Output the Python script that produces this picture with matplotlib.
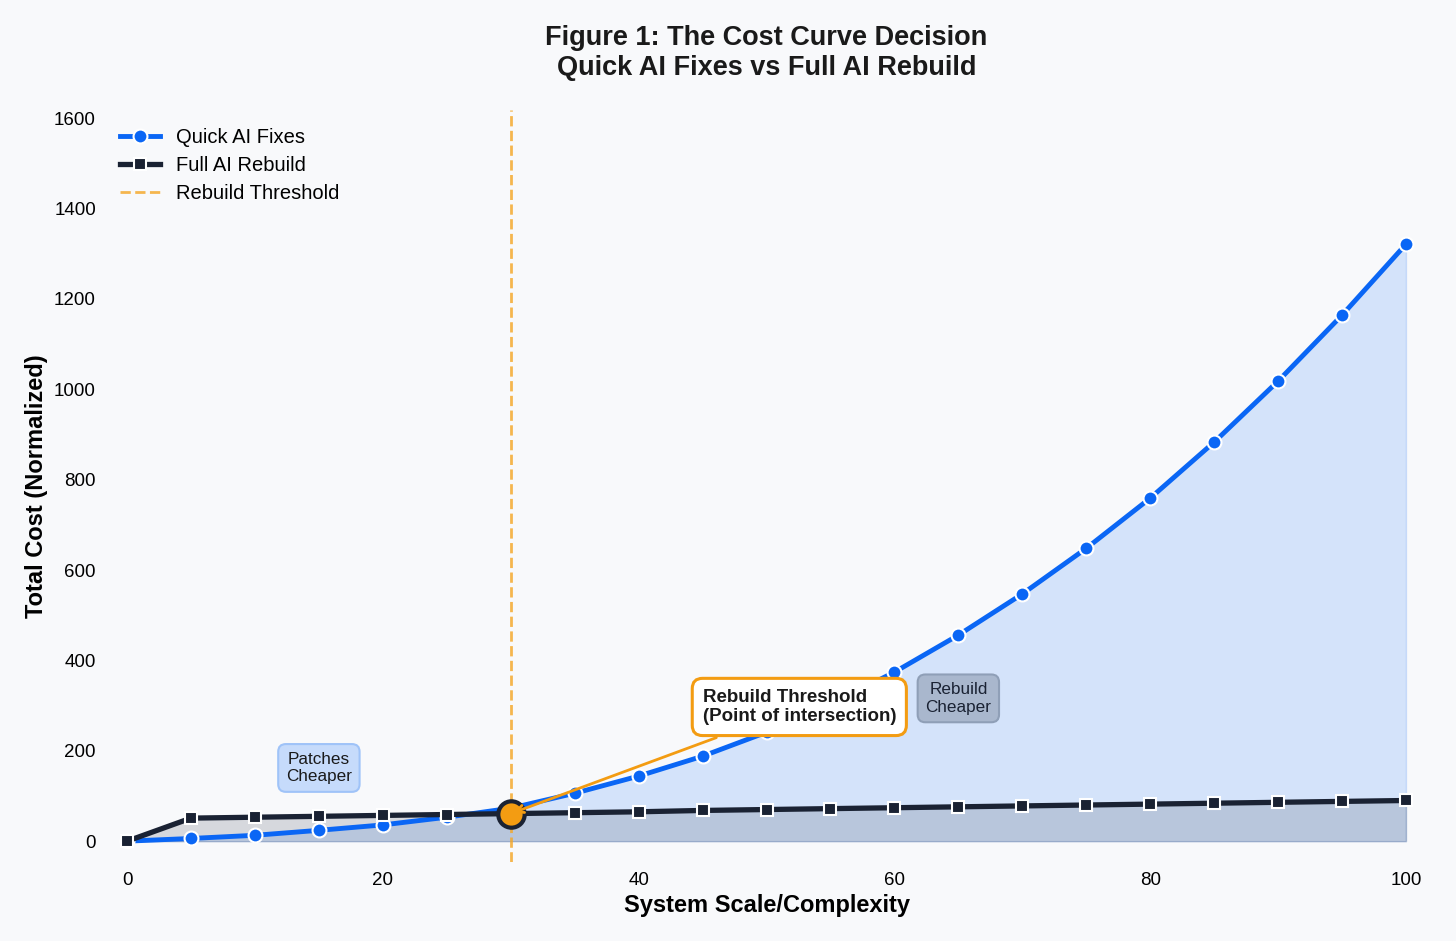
import matplotlib.pyplot as plt
import numpy as np

plt.rcParams['font.family'] = ['Liberation Sans', 'DejaVu Sans']

# data
scale = [0, 5, 10, 15, 20, 25, 30, 35, 40, 45, 50, 55, 60, 65, 70, 75, 80, 85, 90, 95, 100]
quick_fixes = [0, 6, 13, 24, 36, 53, 73, 106, 144, 188, 241, 303, 374, 456, 547, 648, 759, 883, 1018, 1164, 1321]
full_rebuild = [0, 51, 53, 55, 57, 59, 61, 63, 65, 68, 70, 72, 74, 76, 78, 80, 82, 84, 86, 88, 90]
threshold_x = 30
threshold_y = 61

blue = '#0a66f5'
dark = '#1a2233'
orange = '#f39c12'
bg = '#f8f9fb'

fig = plt.figure(figsize=(14.56, 9.41), dpi=100, facecolor=bg)
ax = fig.add_axes([0.0697, 0.084, 0.9135, 0.7991])
ax.set_facecolor(bg)

x = np.array(scale)
q = np.array(quick_fixes)
r = np.array(full_rebuild)

# shaded areas under each curve
ax.fill_between(x, 0, q, color=blue, alpha=0.15, linewidth=1)
ax.fill_between(x, 0, r, color=dark, alpha=0.15, linewidth=1)

ax.plot(x, q, '-o', color=blue, lw=3.5, markersize=10, markeredgecolor='white',
        markeredgewidth=1.5, label='Quick AI Fixes', zorder=4)
ax.plot(x, r, '-s', color=dark, lw=3.8, markersize=9, markeredgecolor='white',
        markeredgewidth=1.5, label='Full AI Rebuild', zorder=4)

ax.axvline(threshold_x, color='#f5a623', ls='--', lw=2, alpha=0.8,
           label='Rebuild Threshold', zorder=3)

# intersection point
ax.plot(threshold_x, threshold_y, 'o', color=orange, markersize=19,
        markeredgecolor=dark, markeredgewidth=3, zorder=6)

ax.annotate('Rebuild Threshold\n(Point of intersection)', xy=(threshold_x, threshold_y),
            xytext=(45, 297), fontsize=13.5, fontweight='bold', color='#1a1a1a',
            va='center', ha='left', zorder=7,
            bbox=dict(boxstyle='round,pad=0.55', fc='white', ec=orange, lw=2.2),
            arrowprops=dict(arrowstyle='->', color=orange, lw=2))

ax.text(15, 162, 'Patches\nCheaper', ha='center', va='center', fontsize=12.3,
        color='#1a1a1a', zorder=5,
        bbox=dict(boxstyle='round,pad=0.45', fc='#c6dbfb', ec='#9fc3f8', lw=1.5))
ax.text(65, 316, 'Rebuild\nCheaper', ha='center', va='center', fontsize=12.3,
        color='#1a2233', zorder=5,
        bbox=dict(boxstyle='round,pad=0.45', fc='#a9b7cd', ec='#8f9fb7', lw=1.5))

ax.set_xlim(-2, 102)
ax.set_ylim(-46, 1618)
ax.set_xticks([0, 20, 40, 60, 80, 100])
ax.set_yticks([0, 200, 400, 600, 800, 1000, 1200, 1400, 1600])
ax.tick_params(axis='y', length=0, labelsize=13.5, pad=4)
ax.tick_params(axis='x', length=0, labelsize=13.5, pad=7)
for s in ax.spines.values():
    s.set_visible(False)

ax.set_xlabel('System Scale/Complexity', fontsize=17, fontweight='bold', labelpad=4)
ax.set_ylabel('Total Cost (Normalized)', fontsize=17, fontweight='bold', labelpad=4)
ax.set_title('Figure 1: The Cost Curve Decision\nQuick AI Fixes vs Full AI Rebuild',
             fontsize=19.5, fontweight='bold', color='#1a1a1a', pad=25)

ax.legend(loc='upper left', bbox_to_anchor=(0.0, 1.0), frameon=False, fontsize=14.5,
          handlelength=2.0, labelspacing=0.45)

fig.savefig('out.png', dpi=100, facecolor=bg)
